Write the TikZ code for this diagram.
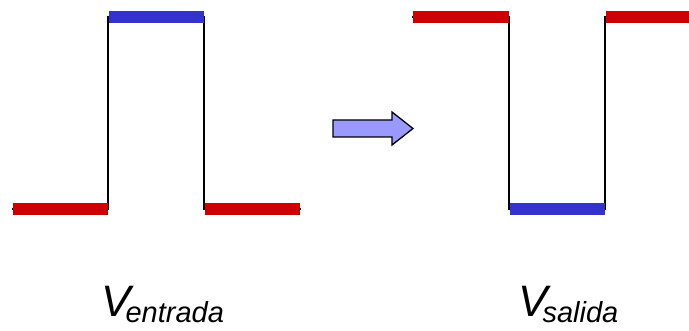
\documentclass[tikz,border=0pt]{standalone}
\usepackage{fontspec}
\setmainfont{Liberation Sans}
\definecolor{lowred}{HTML}{CC0000}
\definecolor{highblue}{HTML}{3333CC}
\definecolor{arrowfill}{HTML}{9999FF}
\begin{document}
\begin{tikzpicture}[x=1pt,y=-1pt,
  wave/.style={draw=black,line width=1.5pt},
  lowbar/.style={draw=lowred,line width=12pt},
  highbar/.style={draw=highblue,line width=12pt},
  bigarrow/.style={draw=black,line width=1.3pt,fill=arrowfill,line join=miter},
  vlabel/.style={anchor=base west,inner sep=0pt,font=\itshape}]
\useasboundingbox (0,0) rectangle (689,331);
% input waveform
\draw[wave] (12,209) -- (108,209) -- (108,17) -- (204,17) -- (204,209) -- (301,209);
\draw[lowbar] (13,209) -- (108,209);
\draw[highbar] (109,17) -- (204,17);
\draw[lowbar] (205,209) -- (300,209);
% output waveform
\draw[wave] (412,17) -- (509,17) -- (509,209) -- (605,209) -- (605,17) -- (689,17);
\draw[lowbar] (413,17) -- (509,17);
\draw[highbar] (510,209) -- (605,209);
\draw[lowbar] (606,17) -- (689,17);
% arrow
\draw[bigarrow] (333,120) -- (392,120) -- (392,112) -- (413,128.5) -- (392,145) -- (392,137) -- (333,137) -- cycle;
% labels
\node[vlabel] (vin) at (101,317) {\fontsize{44}{50}\selectfont V\kern-5pt\raisebox{-6pt}{\fontsize{29}{34}\selectfont entrada}};
\node[vlabel] (vout) at (518,317) {\fontsize{44}{50}\selectfont V\kern-5pt\raisebox{-6pt}{\fontsize{29}{34}\selectfont salida}};
\end{tikzpicture}
\end{document}
